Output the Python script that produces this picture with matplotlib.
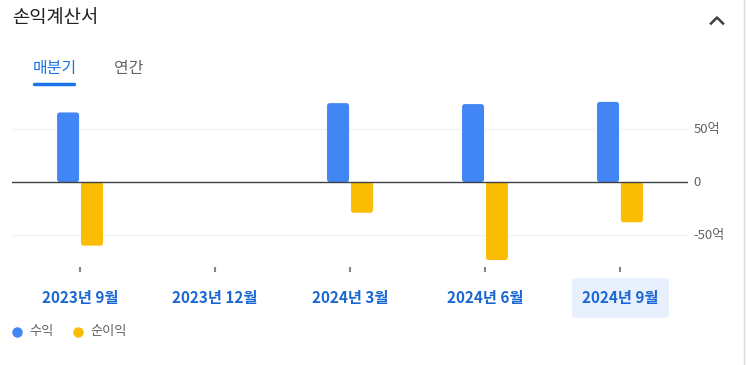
import numpy as np
import matplotlib.pyplot as plt
from matplotlib.patches import FancyBboxPatch
from matplotlib.lines import Line2D

plt.rcParams['font.family'] = ['Noto Sans CJK KR', 'DejaVu Sans']

# 분기별 데이터 (단위: 억)
quarters = ['2023년 9월', '2023년 12월', '2024년 3월', '2024년 6월', '2024년 9월']
revenue = [65.7, np.nan, 74.5, 73.6, 75.7]
net_income = [-60.0, np.nan, -29.0, -73.6, -38.0]
y_ticks = [-50, 0, 50]
y_tick_labels = ['-50억', '0', '50억']
legend_labels = ['수익', '순이익']

BLUE = '#4285F4'
YELLOW = '#FBBC04'
GRAY = '#5f6368'
LINK = '#1a73e8'

fig = plt.figure(figsize=(7.47, 3.65), dpi=100)
W, H = 747, 365

def fx(px): return px / W
def fy(py): return 1 - py / H

# 헤더
fig.text(fx(12), fy(18), '손익계산서', fontsize=13.5, color='#202124', va='center', ha='left')
fig.add_artist(Line2D([fx(711), fx(717), fx(723)], [fy(23.5), fy(17.5), fy(23.5)],
                      color='#3c4043', lw=1.8, transform=fig.transFigure))
fig.text(fx(33), fy(68), '매분기', fontsize=11.5, color=LINK, va='center', ha='left')
fig.text(fx(114), fy(68), '연간', fontsize=11.5, color=GRAY, va='center', ha='left')
fig.add_artist(Line2D([fx(34), fx(74)], [fy(83.5), fy(83.5)], color=LINK, lw=2.5,
                      solid_capstyle='round', transform=fig.transFigure))
# 카드 오른쪽 테두리
fig.add_artist(Line2D([fx(744), fx(744)], [0, 1], color='#dadce0', lw=1, transform=fig.transFigure))

# 차트 영역
ax = fig.add_axes([fx(12), fy(266.8), fx(676), (266.8 - 92) / H])
x = np.arange(len(quarters))
w = 0.163
bars1 = ax.bar(x - w / 2 - 0.007, revenue, width=w, color=BLUE, zorder=3)
bars2 = ax.bar(x + w / 2 + 0.007, net_income, width=w, color=YELLOW, zorder=3)

ax.set_xlim(-0.504, 4.504)
ax.set_ylim(-80, 85)

# 막대 모서리 둥글게
aspect = (165 / 174.8) / (5.008 / 676)
for b in list(bars1) + list(bars2):
    if np.isnan(b.get_height()):
        continue
    bx, by = b.get_xy()
    bw, bh = b.get_width(), b.get_height()
    if bh < 0:
        by, bh = by + bh, -bh
    p = FancyBboxPatch((bx, by), bw, bh, boxstyle='round,pad=0,rounding_size=0.02',
                       mutation_aspect=aspect, fc=b.get_facecolor(), ec='none', zorder=3)
    b.set_visible(False)
    ax.add_patch(p)

ax.axhline(0, color='#3c4043', lw=1, zorder=4)
for v in (-50, 50):
    ax.axhline(v, color='#f1f3f4', lw=1, zorder=1)

for s in ax.spines.values():
    s.set_visible(False)
ax.set_yticks([])
ax.set_xticks(x)
ax.set_xticklabels([])
ax.tick_params(axis='x', length=3.5, width=1.5, color='#80868b', direction='out')

for v, lab in zip(y_ticks, y_tick_labels):
    ax.text(1.008, v, lab, transform=ax.get_yaxis_transform(), ha='left', va='center',
            fontsize=9.5, color=GRAY)

# x 라벨
for i, q in enumerate(quarters):
    cx = fx(80 + 135 * i)
    if i == len(quarters) - 1:
        fig.add_artist(FancyBboxPatch((fx(572), fy(318)), fx(97), (318 - 278) / H,
                                      boxstyle='round,pad=0,rounding_size=0.008',
                                      transform=fig.transFigure, fc='#e8f0fe', ec='none'))
    fig.text(cx, fy(298), q, fontsize=11, fontweight='bold', color='#1967d2',
             ha='center', va='center')

# 범례
for px, lab, c in zip([17, 78], legend_labels, [BLUE, YELLOW]):
    fig.add_artist(Line2D([fx(px)], [fy(332)], marker='o', markersize=6.5, color=c,
                          transform=fig.transFigure, lw=0))
    fig.text(fx(px + 12), fy(332), lab, fontsize=9.5, color=GRAY, ha='left', va='center')

fig.savefig('out.png', dpi=100)
